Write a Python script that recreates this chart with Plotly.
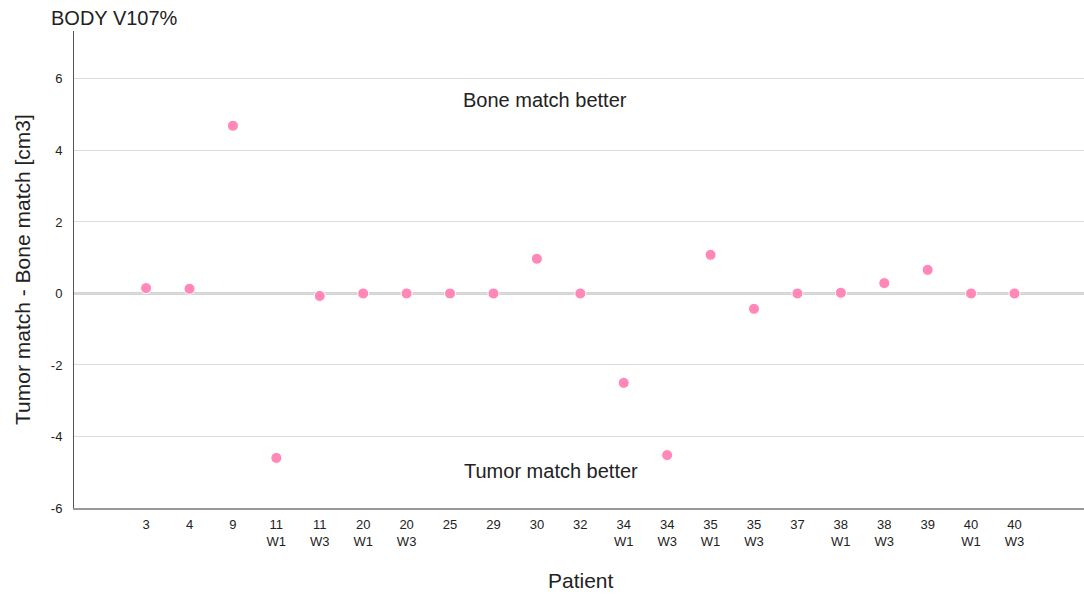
import plotly.graph_objects as go

patients = ["3", "4", "9", "11<br>W1", "11<br>W3", "20<br>W1", "20<br>W3", "25", "29", "30", "32",
            "34<br>W1", "34<br>W3", "35<br>W1", "35<br>W3", "37", "38<br>W1", "38<br>W3", "39",
            "40<br>W1", "40<br>W3"]
diff_cm3 = [0.15, 0.13, 4.69, -4.60, -0.07, 0.0, 0.0, 0.0, 0.0, 0.97, 0.0,
            -2.50, -4.52, 1.08, -0.43, 0.0, 0.02, 0.29, 0.66, 0.0, 0.0]
y_ticks = [-6, -4, -2, 0, 2, 4, 6]
y_tick_labels = ["-6", "-4", "-2", "0", "2", "4", "6"]

W, H = 1084, 595
L, R, T, B = 74, 0, 31, 87
pw, ph = W - L - R, H - T - B

idx = list(range(len(patients)))

fig = go.Figure()
fig.add_trace(go.Scatter(
    x=idx, y=diff_cm3, mode="markers",
    marker=dict(size=11, color="#ff88b8", line=dict(color="white", width=1)),
    hoverinfo="skip", showlegend=False,
))

fig.add_hline(y=0, line=dict(color="#a8a8a8", width=2), layer="below")

font = "Arial, Liberation Sans, sans-serif"
fig.update_layout(
    width=W, height=H,
    margin=dict(l=L, r=R, t=T, b=B),
    plot_bgcolor="white", paper_bgcolor="white",
    font=dict(family=font, color="#222222", size=13),
    xaxis=dict(
        range=[-1.66, 21.6], tickmode="array", tickvals=idx, ticktext=patients,
        showgrid=False, zeroline=False, showline=True, linecolor="#999999", linewidth=2,
        ticks="outside", ticklen=3, tickcolor="rgba(0,0,0,0)",
        tickfont=dict(size=13, color="#222222"),
    ),
    yaxis=dict(
        range=[-6, 7.34], tickmode="array", tickvals=y_ticks, ticktext=y_tick_labels,
        showgrid=True, gridcolor="#dcdcdc", gridwidth=1, zeroline=False,
        showline=True, linecolor="#555555", linewidth=1,
        ticks="outside", ticklen=8, tickcolor="rgba(0,0,0,0)",
        tickfont=dict(size=13, color="#222222"),
    ),
    annotations=[
        dict(text="BODY V107%", xref="paper", yref="paper",
             x=(49 - L) / pw, y=1 + (T - 18) / ph, xanchor="left", yanchor="middle",
             showarrow=False, font=dict(size=20, color="#222222")),
        dict(text="Tumor match - Bone match [cm3]", xref="paper", yref="paper",
             x=(22 - L) / pw, y=(508 - 270) / ph, textangle=-90, xanchor="center", yanchor="middle",
             showarrow=False, font=dict(size=21, color="#222222")),
        dict(text="Patient", xref="paper", yref="paper",
             x=(581 - L) / pw, y=-(580 - 508) / ph, xanchor="center", yanchor="middle",
             showarrow=False, font=dict(size=21, color="#222222")),
        dict(text="Bone match better", xref="paper", yref="y",
             x=(545 - L) / pw, y=5.4, xanchor="center", yanchor="middle",
             showarrow=False, font=dict(size=20, color="#222222")),
        dict(text="Tumor match better", xref="paper", yref="y",
             x=(551 - L) / pw, y=-4.96, xanchor="center", yanchor="middle",
             showarrow=False, font=dict(size=20, color="#222222")),
    ],
)

fig.write_html("out.html")
